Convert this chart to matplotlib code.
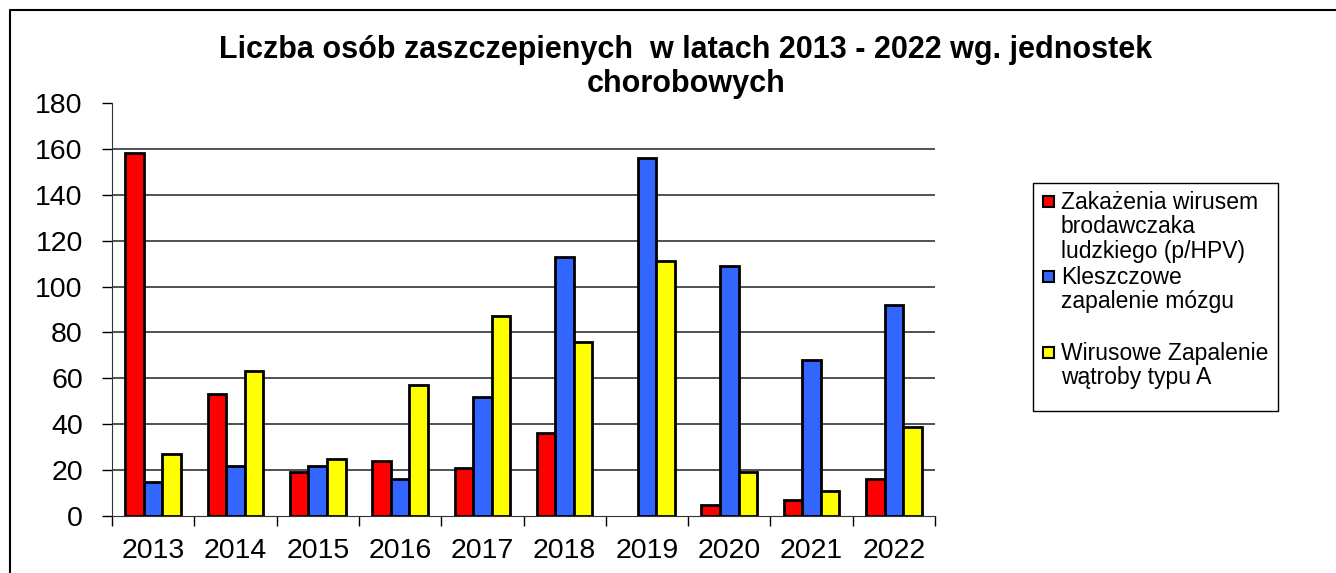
import matplotlib.pyplot as plt
import numpy as np
from matplotlib.patches import Rectangle
from matplotlib.lines import Line2D

plt.rcParams['font.family'] = ['Liberation Sans', 'DejaVu Sans']

# data
years = ['2013', '2014', '2015', '2016', '2017', '2018', '2019', '2020', '2021', '2022']
hpv = [158, 53, 19, 24, 21, 36, 0, 5, 7, 16]
kzm = [15, 22, 22, 16, 52, 113, 156, 109, 68, 92]
wza = [27, 63, 25, 57, 87, 76, 111, 19, 11, 39]
series_labels = ['Zakażenia wirusem\nbrodawczaka\nludzkiego (p/HPV)',
                 'Kleszczowe\nzapalenie mózgu',
                 'Wirusowe Zapalenie\nwątroby typu A']
colors = ['#ff0000', '#3366ff', '#ffff00']

W, H = 1336, 573
fig = plt.figure(figsize=(W / 100, H / 100), dpi=100)
ax = fig.add_axes([112 / W, 57 / H, 823 / W, 413 / H])

x = np.arange(len(years)) + 0.5
bw = 0.225
for i, vals in enumerate([hpv, kzm, wza]):
    # zero-height bars get no outline, like the original
    lw = [2 if v else 0 for v in vals]
    ax.bar(x + (i - 1) * bw, vals, width=bw, color=colors[i],
           edgecolor='black', linewidth=lw, zorder=3)

ax.set_xlim(0, len(years))
ax.set_ylim(0, 180)
ax.set_yticks(np.arange(0, 181, 20))
ax.set_xticks(np.arange(0, len(years) + 1))
ax.set_xticklabels([])
ax.set_xticks(x, minor=True)
ax.set_xticklabels(years, minor=True, fontsize=20.5)
ax.tick_params(axis='x', which='minor', length=0, pad=16)
ax.tick_params(axis='x', which='major', length=7, width=1, direction='out')
ax.tick_params(axis='y', labelsize=20.5, length=7, width=1, direction='out', pad=14)
for v in np.arange(20, 180, 20):
    ax.axhline(v, color='#222222', linewidth=1.1, zorder=1)
ax.spines['top'].set_visible(False)
ax.spines['right'].set_visible(False)
ax.spines['left'].set_color('#333333')
ax.spines['bottom'].set_color('#333333')

fig.text(686 / W, 1 - 50 / H, 'Liczba osób zaszczepienych  w latach 2013 - 2022 wg. jednostek',
         ha='center', va='center', fontsize=22, fontweight='bold')
fig.text(686 / W, 1 - 84 / H, 'chorobowych', ha='center', va='center',
         fontsize=22, fontweight='bold')

# legend drawn by hand
fig.patches.append(Rectangle((1033 / W, 1 - 411 / H), 245 / W, 228 / H,
                             transform=fig.transFigure, fill=False,
                             edgecolor='black', linewidth=1))
tops = [202, 277, 353]
for lab, col, yc in zip(series_labels, colors, tops):
    fig.patches.append(Rectangle((1043 / W, 1 - (yc + 5) / H), 11 / W, 11 / H,
                                 transform=fig.transFigure, facecolor=col,
                                 edgecolor='black', linewidth=1.5))
    fig.text(1061 / W, 1 - (yc - 11) / H, lab, ha='left', va='top',
             fontsize=16.5, linespacing=1.08)

# outer border
fig.lines.append(Line2D([10 / W, 10 / W, 1], [0, 1 - 10 / H, 1 - 10 / H],
                        transform=fig.transFigure, color='black', linewidth=1.5))

fig.savefig('out.png', dpi=100)
